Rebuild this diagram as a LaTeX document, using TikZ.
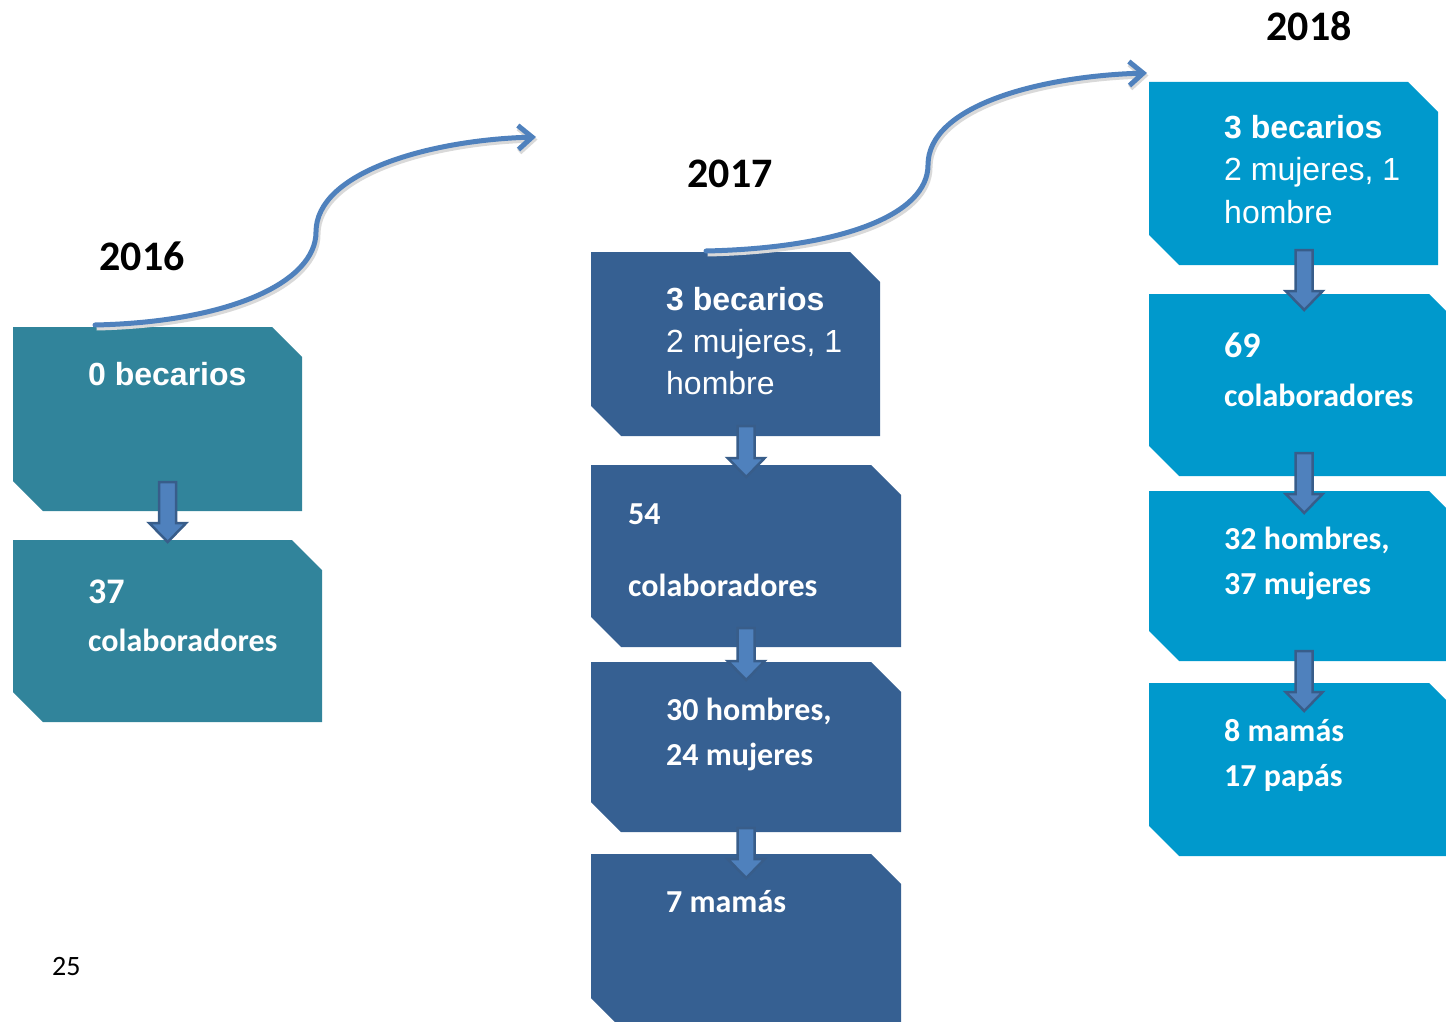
\documentclass[tikz,border=0pt]{standalone}
\usepackage{fontspec}
\setmainfont{Carlito}
\newfontfamily\arialfont{Liberation Sans}
\usetikzlibrary{calc,arrows.meta}
\definecolor{teal16}{HTML}{31849B}
\definecolor{navy17}{HTML}{366092}
\definecolor{cyan18}{HTML}{0099CC}
\definecolor{curveblue}{HTML}{4F81BD}
\definecolor{arrowedge}{HTML}{385D8A}
% box #1 with top left corner (#2,#3), size #4 x #5, cut corners, fill #6
\def\chambox(#1)(#2,#3)(#4,#5)#6{\fill[#6] (#2,#3) -- ++(#4-30,0) -- ++(30,30) -- ++(0,#5-30) -- ++(-#4+30,0) -- ++(-30,-30) -- cycle;
	\node[boxframe, minimum width=#4pt, minimum height=#5pt] (#1) at (#2,#3) {};}
% block arrow into the top of box #1, shaft from offset #2 to tip at offset #3
\def\blockarr(#1)(#2)(#3){\draw[blockarrow] ($(#1.north)+(-8.5,#2)$) -- ($(#1.north)+(-8.5,#3-19)$) -- ($(#1.north)+(-18.5,#3-19)$) -- ($(#1.north)+(0,#3)$) -- ($(#1.north)+(18.5,#3-19)$) -- ($(#1.north)+(8.5,#3-19)$) -- ($(#1.north)+(8.5,#2)$) -- cycle;}

\begin{document}
\begin{tikzpicture}[x=1pt,y=-1pt,
	boxframe/.style={rectangle, inner sep=0pt, anchor=north west},
	txt/.style={anchor=base west, text=white, inner sep=0pt, font=\bfseries\fontsize{32}{38}\selectfont},
	bignum/.style={txt, font=\bfseries\fontsize{36}{42}\selectfont},
	atxt/.style={anchor=base west, text=white, inner sep=0pt, font=\arialfont\bfseries\fontsize{32}{38}\selectfont},
	areg/.style={anchor=base west, text=white, inner sep=0pt, font=\arialfont\fontsize{32}{38}\selectfont},
	year/.style={anchor=base, inner sep=0pt, font=\bfseries\fontsize{42}{50}\selectfont},
	blockarrow/.style={fill=curveblue, draw=arrowedge, line width=2.5pt, line join=miter},
	curvearrow/.style={draw=curveblue, line width=5pt, line cap=round, -{Straight Barb[length=14pt,width=24pt]},
		preaction={draw=black!15, line width=6pt, transform canvas={shift={(1.5pt,-2.5pt)}}}}]
	\useasboundingbox (0,0) rectangle (1446,1022);
	\clip (0,0) rectangle (1446,1022);
	%%%%% 2016 %%%%%
	\chambox(a1)(13,327)(289,184){teal16}
	\chambox(a2)(13,540)(309,182){teal16}
	\blockarr(a2)(-58)(2)
	\node[year] (y16) at (142,270) {2016};
	\node[atxt] (a1t) at (88,385) {0 becarios};
	\node[bignum] (a2t) at (88,603) {37};
	\node[txt] (a2u) at (88,651) {colaboradores};
	%%%%% 2017 %%%%%
	\chambox(b1)(591,252)(289,184){navy17}
	\chambox(b2)(591,465)(310,182){navy17}
	\chambox(b3)(591,662)(310,170){navy17}
	\chambox(b4)(591,854)(310,174){navy17}
	\blockarr(b2)(-39)(12)
	\blockarr(b3)(-34)(18)
	\blockarr(b4)(-26)(24)
	\node[year] (y17) at (730,187) {2017};
	\node[atxt] (b1t) at (666,310) {3 becarios};
	\node[areg] (b1u) at (666,352) {2 mujeres, 1};
	\node[areg] (b1v) at (666,394) {hombre};
	\node[txt] (b2t) at (628,524) {54};
	\node[txt] (b2u) at (628,596) {colaboradores};
	\node[txt] (b3t) at (666,720) {30 hombres,};
	\node[txt] (b3u) at (666,765) {24 mujeres};
	\node[txt] (b4t) at (666,912) {7 mamás};
	%%%%% 2018 %%%%%
	\chambox(c1)(1149,82)(289,183){cyan18}
	\chambox(c2)(1149,294)(310,182){cyan18}
	\chambox(c3)(1149,491)(310,170){cyan18}
	\chambox(c4)(1149,683)(310,173){cyan18}
	\blockarr(c2)(-44)(16)
	\blockarr(c3)(-38)(22)
	\blockarr(c4)(-32)(28)
	\node[year] (y18) at (1309,41) {2018};
	\node[atxt] (c1t) at (1224,139) {3 becarios};
	\node[areg] (c1u) at (1224,181) {2 mujeres, 1};
	\node[areg] (c1v) at (1224,223) {hombre};
	\node[bignum] (c2t) at (1224,357) {69};
	\node[txt] (c2u) at (1224,406) {colaboradores};
	\node[txt] (c3t) at (1224,549) {32 hombres,};
	\node[txt] (c3u) at (1224,594) {37 mujeres};
	\node[txt] (c4t) at (1224,741) {8 mamás};
	\node[txt] (c4u) at (1224,786) {17 papás};
	%%%%% year curves %%%%%
	\coordinate (toyear17) at (536,137);
	\draw[curvearrow] ($(a1.north west)+(82,-2)$) .. controls (230,322) and (316,282) .. (316,232) .. controls (316,172) and (430,140) .. (toyear17);
	\draw[curvearrow] ($(b1.north west)+(115,-1)$) .. controls (841,248) and (928,215) .. (928,165) .. controls (928,105) and (1042,76) .. ($(c1.north west)+(-2,-9)$);
	\node[anchor=base west, inner sep=0pt, font=\fontsize{28}{34}\selectfont] (page) at (52,975) {25};
\end{tikzpicture}
\end{document}
